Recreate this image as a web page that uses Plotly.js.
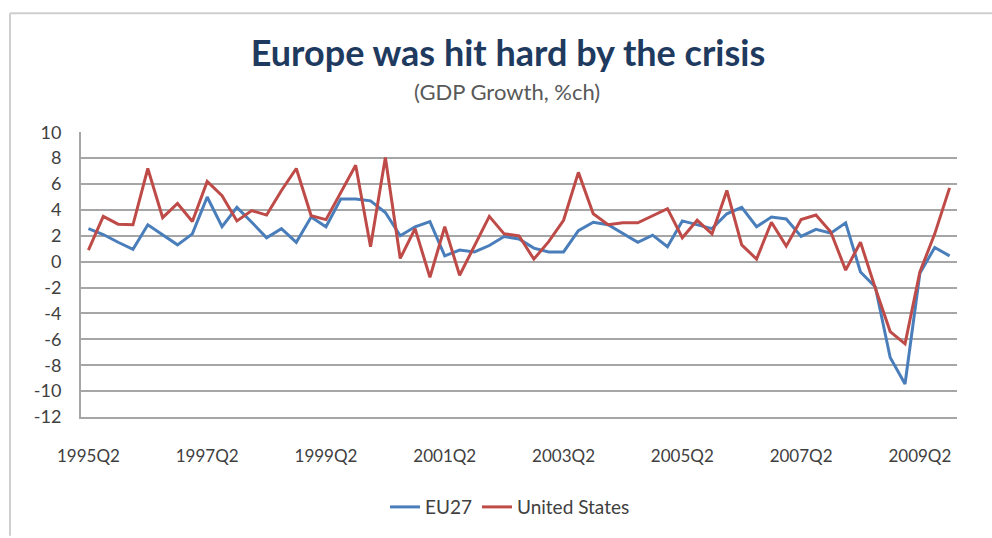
<!DOCTYPE html>
<html>
<head>
<meta charset="utf-8">
<script src="https://cdn.plot.ly/plotly-3.0.1.min.js"></script>
<style>
html,body{margin:0;padding:0;background:#fff;}
#chart{width:992px;height:538px;}
</style>
</head>
<body>
<div id="chart"></div>
<script>
var quarters = [
"1995Q2","1995Q3","1995Q4","1996Q1","1996Q2","1996Q3","1996Q4","1997Q1",
"1997Q2","1997Q3","1997Q4","1998Q1","1998Q2","1998Q3","1998Q4","1999Q1",
"1999Q2","1999Q3","1999Q4","2000Q1","2000Q2","2000Q3","2000Q4","2001Q1",
"2001Q2","2001Q3","2001Q4","2002Q1","2002Q2","2002Q3","2002Q4","2003Q1",
"2003Q2","2003Q3","2003Q4","2004Q1","2004Q2","2004Q3","2004Q4","2005Q1",
"2005Q2","2005Q3","2005Q4","2006Q1","2006Q2","2006Q3","2006Q4","2007Q1",
"2007Q2","2007Q3","2007Q4","2008Q1","2008Q2","2008Q3","2008Q4","2009Q1",
"2009Q2","2009Q3","2009Q4"
];

var eu27 = [
2.55, 2.1, 1.5, 0.95, 2.85, 2.1, 1.3, 2.15,
5.0, 2.7, 4.2, 3.05, 1.85, 2.55, 1.5, 3.45,
2.7, 4.85, 4.85, 4.7, 3.8, 2.0, 2.7, 3.1,
0.45, 0.9, 0.75, 1.25, 1.95, 1.75, 1.05, 0.75,
0.75, 2.4, 3.05, 2.85, 2.15, 1.5, 2.05, 1.15,
3.15, 2.85, 2.55, 3.7, 4.2, 2.7, 3.45, 3.3,
1.95, 2.5, 2.2, 3.0, -0.8, -1.95, -7.4, -9.45,
-0.9, 1.1, 0.45
];

var unitedStates = [
0.9, 3.5, 2.9, 2.85, 7.2, 3.4, 4.5, 3.1,
6.2, 5.1, 3.15, 3.95, 3.6, 5.5, 7.2, 3.55,
3.25, 5.35, 7.45, 1.15, 8.05, 0.25, 2.55, -1.2,
2.7, -1.05, 1.25, 3.5, 2.15, 2.0, 0.2, 1.55,
3.2, 6.9, 3.7, 2.85, 3.0, 3.0, 3.55, 4.1,
1.85, 3.2, 2.15, 5.5, 1.3, 0.2, 3.05, 1.2,
3.25, 3.6, 2.3, -0.65, 1.5, -2.05, -5.4, -6.35,
-0.8, 2.15, 5.7
];

var tickLabels = ["1995Q2","1997Q2","1999Q2","2001Q2","2003Q2","2005Q2","2007Q2","2009Q2"];
var yTicks = [10, 8, 6, 4, 2, 0, -2, -4, -6, -8, -10, -12];
var yTickText = ["10", "8", "6", "4", "2", "0", "-2", "-4", "-6", "-8", "-10", "-12"];

var FONT = "Lato, 'Open Sans', sans-serif";

var traces = [
  {x: quarters, y: eu27, name: "EU27", type: "scatter", mode: "lines",
   line: {color: "#4a7ebb", width: 3}},
  {x: quarters, y: unitedStates, name: "United States", type: "scatter", mode: "lines",
   line: {color: "#be4b48", width: 3}}
];

// plot area: top 132, bottom 420 -> 288 px
var layout = {
  width: 992, height: 538,
  margin: {l: 81, r: 35, t: 132, b: 118},
  paper_bgcolor: "#ffffff", plot_bgcolor: "#ffffff",
  font: {family: FONT, color: "#404040", size: 15},
  title: {
    text: "<b>Europe was hit hard by the crisis</b>",
    font: {family: FONT, size: 36, color: "#1f3a5f"},
    x: 508/992, xanchor: "center", xref: "container",
    y: 1 - 53/538, yanchor: "middle", yref: "container"
  },
  annotations: [{
    text: "(GDP Growth, %ch)",
    xref: "paper", yref: "paper",
    x: (507-81)/876, y: (420-91)/288,
    xanchor: "center", yanchor: "middle",
    showarrow: false,
    font: {family: FONT, size: 22, color: "#595959"}
  }],
  xaxis: {
    type: "category",
    categoryorder: "array", categoryarray: quarters,
    range: [-0.5, quarters.length - 0.5],
    tickmode: "array", tickvals: tickLabels, ticktext: tickLabels,
    showgrid: false, zeroline: false,
    showline: true, linecolor: "#a6a6a6", linewidth: 2,
    ticks: "outside", ticklen: 23, tickcolor: "rgba(0,0,0,0)",
    tickfont: {family: FONT, size: 17, color: "#404040"},
    fixedrange: true
  },
  yaxis: {
    range: [-12, 10.02],
    tickmode: "array", tickvals: yTicks, ticktext: yTickText,
    showgrid: true, gridcolor: "#a6a6a6", gridwidth: 2,
    zeroline: false,
    showline: true, linecolor: "#a6a6a6", linewidth: 2,
    ticks: "outside", ticklen: 14, tickcolor: "rgba(0,0,0,0)",
    tickfont: {family: FONT, size: 18, color: "#404040"},
    fixedrange: true
  },
  showlegend: true,
  legend: {
    orientation: "h",
    x: (510-81)/876, xanchor: "center",
    y: (420-511)/288, yanchor: "middle",
    font: {family: FONT, size: 19, color: "#404040"},
    bgcolor: "rgba(0,0,0,0)"
  },
  shapes: [
    {type: "line", xref: "paper", yref: "paper",
     x0: (10-81)/876, x1: (10-81)/876, y0: (420-12)/288, y1: (420-540)/288,
     line: {color: "#cfcfcf", width: 2}},
    {type: "line", xref: "paper", yref: "paper",
     x0: (10-81)/876, x1: (995-81)/876, y0: (420-12)/288, y1: (420-12)/288,
     line: {color: "#cfcfcf", width: 2}}
  ]
};

Plotly.newPlot("chart", traces, layout, {displayModeBar: false, staticPlot: true});
</script>
</body>
</html>
